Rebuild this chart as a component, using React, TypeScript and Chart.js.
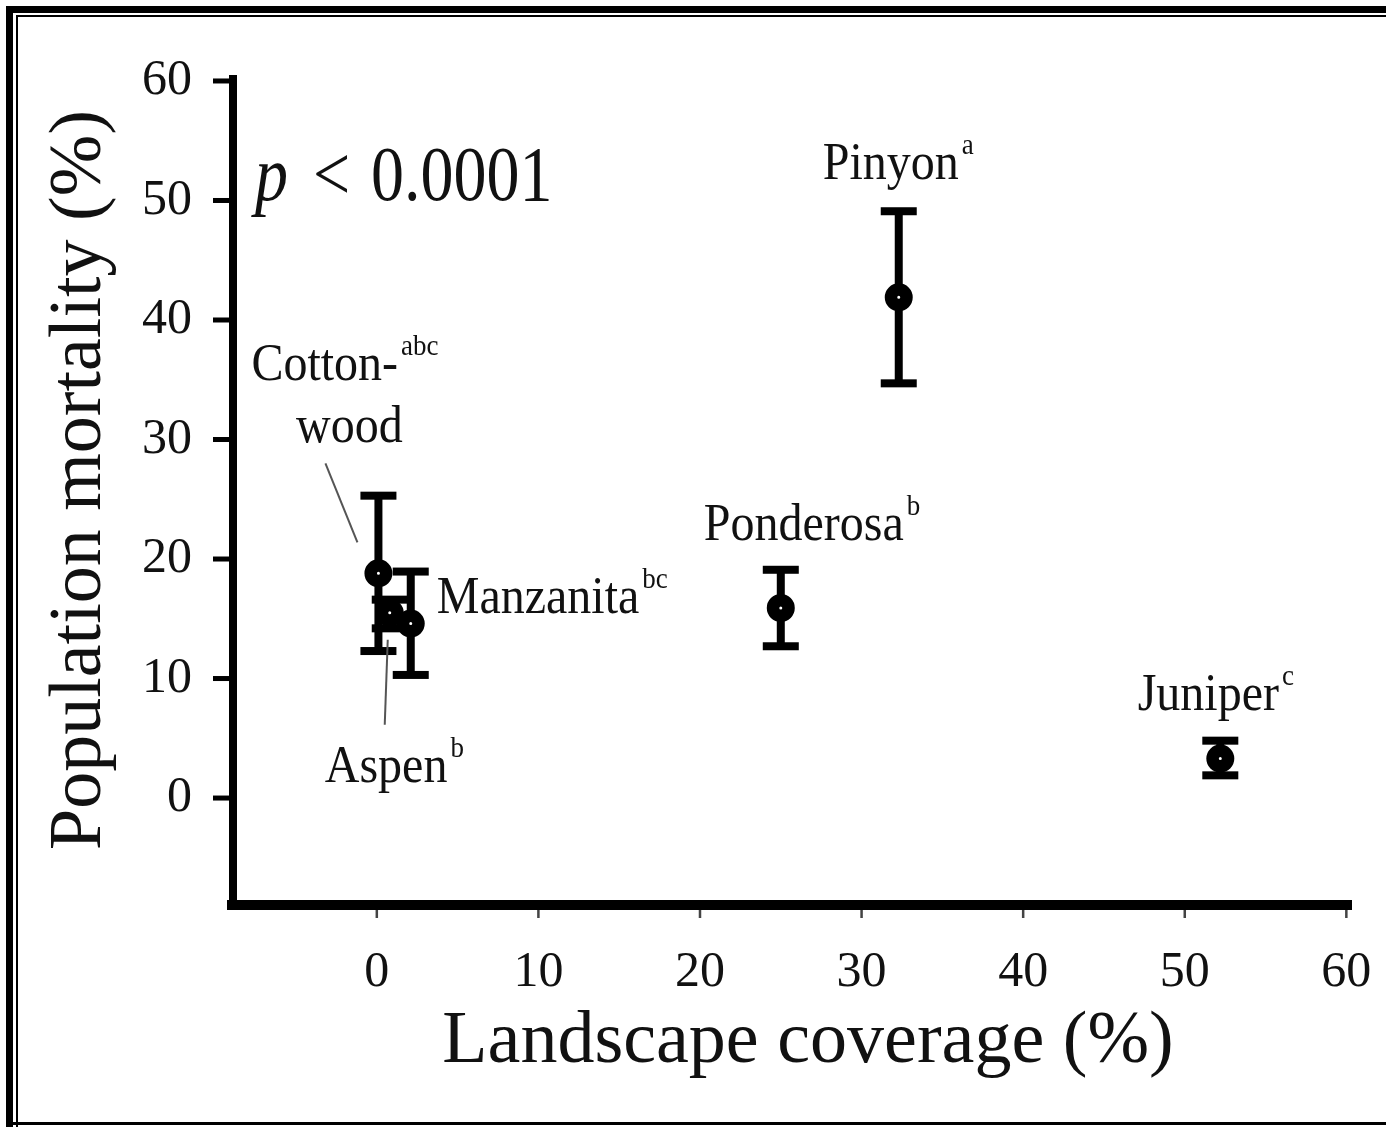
import React, { useEffect, useRef } from 'react';
import { Chart, registerables } from 'chart.js';

Chart.register(...registerables);

// ---- data ----
const species = ['Cottonwood', 'Aspen', 'Manzanita', 'Ponderosa', 'Pinyon', 'Juniper'];
const coverage = [0.1, 0.8, 2.1, 25.0, 32.3, 52.2];
const mortality = [18.8, 15.5, 14.6, 15.9, 41.9, 3.3];
const errLow = [12.3, 14.2, 10.3, 12.7, 34.7, 1.9];
const errHigh = [25.3, 16.6, 18.95, 19.1, 49.1, 4.8];
const groupLetters = ['abc', 'b', 'bc', 'b', 'a', 'c'];
const xTicks = [0, 10, 20, 30, 40, 50, 60];
const yTicks = [0, 10, 20, 30, 40, 50, 60];
const xTitle = 'Landscape coverage (%)';
const yTitle = 'Population mortality (%)';
const pLetter = 'p';
const pRest = ['<', '0.0001'];

// ---- layout / style (pixel offsets relative to each point) ----
const FONT = '"Liberation Serif", "Times New Roman", Times, serif';
type LabelLine = { text: string; sup?: string; dx: number; dy: number; align: 'left' | 'center' };
const labelLayout: Record<string, { lines: LabelLine[]; leader?: [number, number, number, number] }> = {
  Cottonwood: {
    lines: [
      { text: 'Cotton-', sup: 'abc', dx: -127, dy: -193, align: 'left' },
      { text: 'wood', dx: -29, dy: -131, align: 'center' },
    ],
    leader: [-53, -110, -21, -31],
  },
  Aspen: {
    lines: [{ text: 'Aspen', sup: 'b', dx: -65, dy: 169, align: 'left' }],
    leader: [-2, 27, -5, 112],
  },
  Manzanita: { lines: [{ text: 'Manzanita', sup: 'bc', dx: 26, dy: -11, align: 'left' }] },
  Ponderosa: { lines: [{ text: 'Ponderosa', sup: 'b', dx: 23, dy: -68, align: 'center' }] },
  Pinyon: { lines: [{ text: 'Pinyon', sup: 'a', dx: -8, dy: -118, align: 'center' }] },
  Juniper: { lines: [{ text: 'Juniper', sup: 'c', dx: -12, dy: -49, align: 'center' }] },
};

function drawScaledText(ctx: CanvasRenderingContext2D, text: string, x: number, y: number, sy: number) {
  ctx.save();
  ctx.translate(x, y);
  ctx.scale(1, sy);
  ctx.fillText(text, 0, 0);
  ctx.restore();
}

const framePlugin = {
  id: 'frame',
  beforeDraw(chart: any) {
    const ctx = chart.ctx as CanvasRenderingContext2D;
    const W = chart.width;
    const H = chart.height;
    ctx.save();
    ctx.fillStyle = '#fff';
    ctx.fillRect(0, 0, W, H);
    ctx.fillStyle = '#000';
    // thick outer band (top + left)
    ctx.fillRect(6, 6, W - 6, 7);
    ctx.fillRect(6, 6, 7, H - 6);
    // thin inner lines
    ctx.fillRect(16, 15, W - 16, 2);
    ctx.fillRect(16, 15, 2, H - 15);
    // bottom line
    ctx.fillRect(6, H - 5, W - 6, 3);
    ctx.restore();
  },
};

const axesAndErrorPlugin = {
  id: 'axesErr',
  beforeDatasetsDraw(chart: any) {
    const ctx = chart.ctx as CanvasRenderingContext2D;
    const { left, right, top, bottom } = chart.chartArea;
    const xs = chart.scales.x;
    const ys = chart.scales.y;
    ctx.save();
    ctx.fillStyle = '#000';
    // y axis
    ctx.fillRect(left - 4, top, 8, bottom - top + 5);
    // x axis
    ctx.fillRect(left - 6, bottom - 5, right - left + 6, 10);
    // y ticks (outside, to the left)
    yTicks.forEach((v) => {
      const py = ys.getPixelForValue(v);
      ctx.fillRect(left - 20, py - 2.5, 16, 5);
    });
    // x ticks (thin, detached below axis)
    ctx.fillStyle = '#444';
    xTicks.forEach((v) => {
      const px = xs.getPixelForValue(v);
      ctx.fillRect(px - 1.25, bottom + 5, 2.5, 8);
    });
    // error bars
    ctx.fillStyle = '#000';
    coverage.forEach((x, i) => {
      const px = xs.getPixelForValue(x);
      const pHi = ys.getPixelForValue(errHigh[i]);
      const pLo = ys.getPixelForValue(errLow[i]);
      ctx.fillRect(px - 4, pHi, 8, pLo - pHi);
      ctx.fillRect(px - 18, pHi - 4, 36, 8);
      ctx.fillRect(px - 18, pLo - 4, 36, 8);
    });
    ctx.restore();
  },
};

const labelPlugin = {
  id: 'labels',
  afterDraw(chart: any) {
    const ctx = chart.ctx as CanvasRenderingContext2D;
    const xs = chart.scales.x;
    const ys = chart.scales.y;
    const { left, top } = chart.chartArea;
    ctx.save();
    ctx.fillStyle = '#111';
    ctx.textBaseline = 'alphabetic';
    species.forEach((name, i) => {
      const lay = labelLayout[name];
      if (!lay) return;
      const px = xs.getPixelForValue(coverage[i]);
      const py = ys.getPixelForValue(mortality[i]);
      if (lay.leader) {
        const [x1, y1, x2, y2] = lay.leader;
        ctx.strokeStyle = '#555';
        ctx.lineWidth = 2;
        ctx.beginPath();
        ctx.moveTo(px + x1, py + y1);
        ctx.lineTo(px + x2, py + y2);
        ctx.stroke();
      }
      lay.lines.forEach((ln, li) => {
        ctx.font = `48px ${FONT}`;
        const w = ctx.measureText(ln.text).width;
        const x0 = ln.align === 'center' ? px + ln.dx - w / 2 : px + ln.dx;
        const by = py + ln.dy;
        ctx.textAlign = 'left';
        drawScaledText(ctx, ln.text, x0, by, 1.08);
        if (li === 0) {
          ctx.font = `27px ${FONT}`;
          drawScaledText(ctx, groupLetters[i], x0 + w + 3, by - 25, 1.08);
        }
      });
    });
    // p-value annotation
    ctx.textAlign = 'left';
    ctx.font = `italic 66px ${FONT}`;
    drawScaledText(ctx, pLetter, left + 22, top + 125, 1.2);
    ctx.font = `66px ${FONT}`;
    drawScaledText(ctx, pRest[0], left + 80, top + 125, 1.2);
    drawScaledText(ctx, pRest[1], left + 138, top + 125, 1.2);

    // axis titles
    ctx.font = `74px ${FONT}`;
    ctx.textAlign = 'center';
    ctx.fillText(xTitle, 808, 1062);
    ctx.save();
    ctx.translate(100, 480);
    ctx.rotate(-Math.PI / 2);
    ctx.fillText(yTitle, 0, 0);
    ctx.restore();
    ctx.restore();
  },
};

export default function App() {
  const ref = useRef<HTMLCanvasElement>(null);
  useEffect(() => {
    const canvas = ref.current;
    if (!canvas) return;
    const chart = new Chart(canvas, {
      type: 'scatter',
      data: {
        datasets: [
          {
            label: 'Population mortality',
            data: coverage.map((x, i) => ({ x, y: mortality[i] })),
            pointRadius: 7.75,
            pointHoverRadius: 7.75,
            borderWidth: 12.5,
            backgroundColor: '#fff',
            borderColor: '#000',
          },
        ],
      },
      options: {
        responsive: false,
        animation: false,
        events: [],
        layout: { padding: { top: 75, right: 34, left: 0, bottom: 0 } },
        plugins: { legend: { display: false }, tooltip: { enabled: false } },
        scales: {
          x: {
            type: 'linear',
            min: -8.9,
            max: 60.35,
            grid: { display: false, drawTicks: false },
            border: { display: false },
            afterBuildTicks: (s: any) => {
              s.ticks = xTicks.map((v) => ({ value: v }));
            },
            afterFit: (s: any) => {
              s.height = 222;
              s.paddingLeft = 0;
              s.paddingRight = 0;
            },
            ticks: {
              font: { family: FONT, size: 50 },
              color: '#111',
              padding: 38,
              maxRotation: 0,
              minRotation: 0,
              autoSkip: false,
            },
            title: { display: false, text: xTitle },
          },
          y: {
            type: 'linear',
            min: -8.95,
            max: 60.5,
            grid: { display: false, drawTicks: false },
            border: { display: false },
            afterBuildTicks: (s: any) => {
              s.ticks = yTicks.map((v) => ({ value: v }));
            },
            afterFit: (s: any) => {
              s.width = 233;
              s.paddingTop = 0;
              s.paddingBottom = 0;
            },
            ticks: {
              font: { family: FONT, size: 50 },
              color: '#111',
              padding: 41,
              autoSkip: false,
            },
            title: { display: false, text: yTitle },
          },
        },
      },
      plugins: [framePlugin, axesAndErrorPlugin, labelPlugin],
    } as any);
    return () => chart.destroy();
  }, []);
  return (
    <div style={{ position: 'fixed', left: 0, top: 0, width: 1386, height: 1127, background: '#fff' }}>
      <canvas ref={ref} width={1386} height={1127} style={{ display: 'block', width: 1386, height: 1127 }} />
    </div>
  );
}
